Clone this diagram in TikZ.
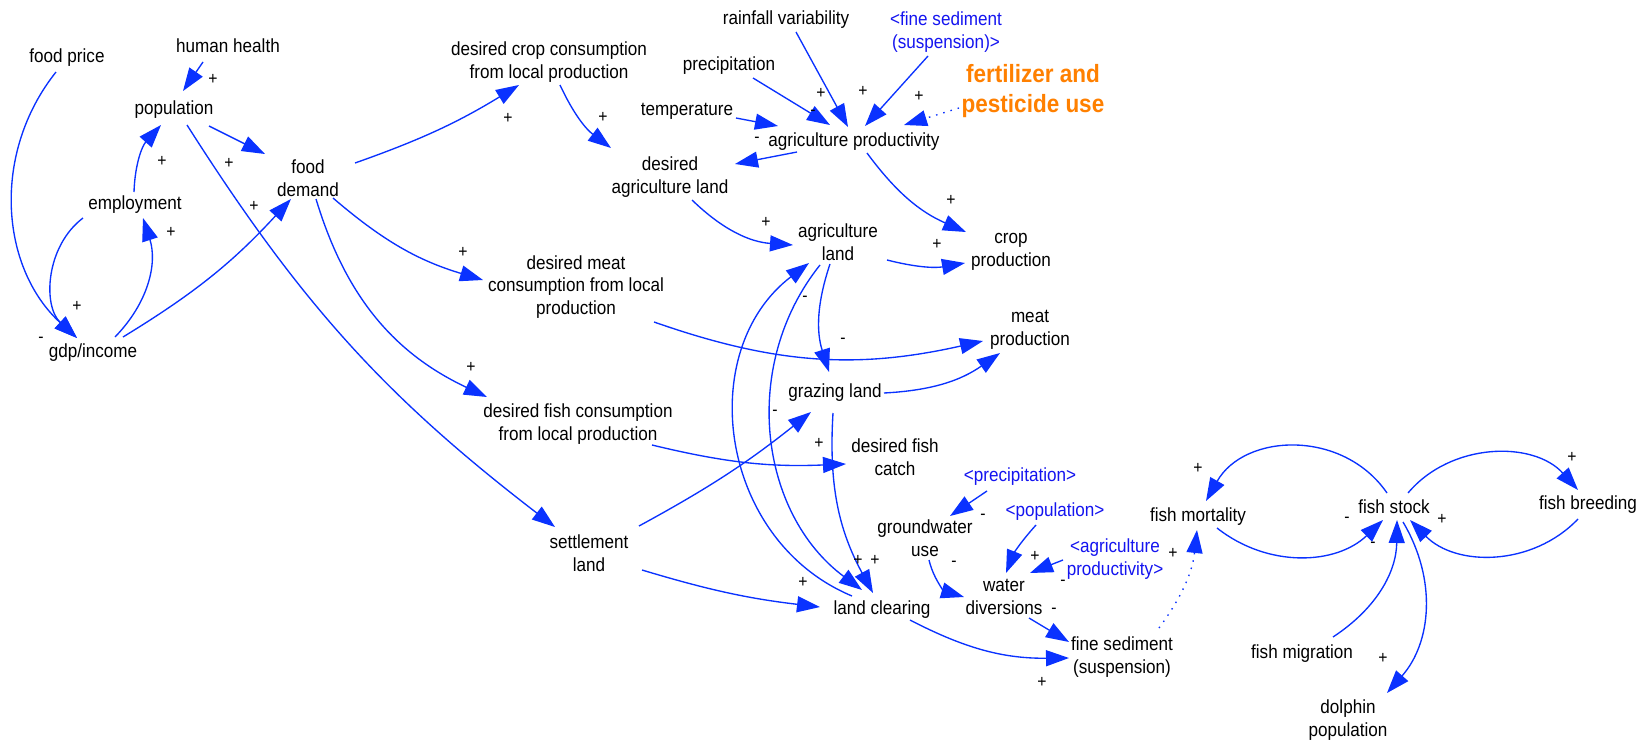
\documentclass[tikz,border=0pt]{standalone}
\usepackage{fontspec}
\setmainfont{Liberation Sans}[FakeStretch=0.9]
\usetikzlibrary{arrows.meta}
\definecolor{linkblue}{RGB}{10,50,255}
\definecolor{shadowblue}{RGB}{20,20,240}
\definecolor{fertorange}{RGB}{255,128,0}
\begin{document}
\begin{tikzpicture}[x=1pt,y=1pt,
  var/.style={inner sep=2pt, align=center, font=\fontsize{19}{22.5}\selectfont},
  shadow/.style={var, text=shadowblue},
  pol/.style={inner sep=0pt, font=\fontsize{17.5}{17.5}\selectfont},
  link/.style={draw=linkblue, line width=1.35pt, -{Triangle[length=23pt,width=16pt]}},
  dotlink/.style={link, dash pattern=on 1.5pt off 6pt},
]
\fill[white] (0,0) rectangle (1641,-744);
\useasboundingbox (0,0) rectangle (1641,-744);

% variables
\node[var] (fp)   at (67,-58)   {food price};
\node[var] (hh)   at (228,-46)  {human health};
\node[var] (pop)  at (174,-110) {population};
\node[var] (fd)   at (308,-178) {food\\demand};
\node[var] (emp)  at (135,-205) {employment};
\node[var] (gdp)  at (93,-353)  {gdp/income};
\node[var] (dcc)  at (549,-62)  {desired crop consumption\\from local production};
\node[var] (rv)   at (786,-20)  {rainfall variability};
\node[var] (prec) at (729,-66)  {precipitation};
\node[var] (temp) at (687,-111) {temperature};
\node[shadow] (fss) at (946,-32) {<fine sediment\\(suspension)>};
\node[align=center, text=fertorange, inner sep=2pt,
      font=\bfseries\fontsize{25}{30}\selectfont] (fert) at (1033,-91) {fertilizer and\\pesticide use};
\node[var] (ap)   at (854,-142) {agriculture productivity};
\node[var] (dal)  at (670,-177) {desired\\agriculture land};
\node[var] (al)   at (838,-242) {agriculture\\land};
\node[var] (cp)   at (1011,-252) {crop\\production};
\node[var] (dmc)  at (576,-287) {desired meat\\consumption from local\\production};
\node[var] (mp)   at (1030,-330) {meat\\production};
\node[var] (gl)   at (835,-393) {grazing land};
\node[var] (dfc)  at (578,-424) {desired fish consumption\\from local production};
\node[var] (dfch) at (895,-457) {desired fish\\catch};
\node[var] (sl)   at (589,-553) {settlement\\land};
\node[var] (lc)   at (882,-610) {land clearing};
\node[shadow] (sprec) at (1020,-477) {<precipitation>};
\node[var] (gw)   at (925,-538) {groundwater\\use};
\node[shadow] (spop) at (1055,-512) {<population>};
\node[shadow] (sap) at (1115,-559) {<agriculture\\productivity>};
\node[var] (wd)   at (1004,-597) {water\\diversions};
\node[var] (fs)   at (1122,-657) {fine sediment\\(suspension)};
\node[var] (fm)   at (1198,-517) {fish mortality};
\node[var] (fst)  at (1394,-507) {fish stock};
\node[var] (fb)   at (1588,-505) {fish breeding};
\node[var] (fmig) at (1302,-654) {fish migration};
\node[var] (dp)   at (1348,-720) {dolphin\\population};

% causal links
\draw[link] ([shift={(-25,-16)}]hh.center) -- ([shift={(9,19)}]pop.center);
\draw[link] ([shift={(-11,-14)}]fp.center) to[bend right=43] ([shift={(-16,15)}]gdp.center);
\draw[link] ([shift={(-52,-13)}]emp.center) to[bend right=50] ([shift={(-16,15)}]gdp.center);
\draw[link] ([shift={(22,16)}]gdp.center) to[bend right=31] ([shift={(8,-13)}]emp.center);
\draw[link] ([shift={(30,16)}]gdp.center) to[bend right=8] ([shift={(-17,-21)}]fd.center);
\draw[link] ([shift={(-1,13)}]emp.center) to[bend left=20] ([shift={(-13,-15)}]pop.center);
\draw[link] ([shift={(35,-16)}]pop.center) -- ([shift={(-43,24)}]fd.center);
\draw[link] ([shift={(13,-15)}]pop.center) to[bend right=10] ([shift={(-34,26)}]sl.center);
\draw[link] ([shift={(47,15)}]fd.center) to[bend right=6] ([shift={(-30,-23)}]dcc.center);
\draw[link] ([shift={(25,-20)}]fd.center) to[bend right=12] ([shift={(-93,7)}]dmc.center);
\draw[link] ([shift={(8,-21)}]fd.center) to[bend right=24] ([shift={(-91,27)}]dfc.center);
\draw[link] ([shift={(11,-23)}]dcc.center) to[bend right=14] ([shift={(-59,29)}]dal.center);
\draw[link] ([shift={(22,-23)}]dal.center) to[bend right=20] ([shift={(-45,-3)}]al.center);
\draw[link] ([shift={(-57,-10)}]ap.center) -- ([shift={(65,13)}]dal.center);
\draw[link] ([shift={(49,-7)}]temp.center) -- ([shift={(-76,16)}]ap.center);
\draw[link] ([shift={(24,-12)}]prec.center) -- ([shift={(-24,17)}]ap.center);
\draw[link] ([shift={(10,-12)}]rv.center) -- ([shift={(-6,15)}]ap.center);
\draw[link] ([shift={(-18,-24)}]fss.center) -- ([shift={(11,16)}]ap.center);
\draw[dotlink] ([shift={(-74,-17)}]fert.center) -- ([shift={(50,17)}]ap.center);
\draw[link] ([shift={(13,-11)}]ap.center) to[bend right=15] ([shift={(-45,20)}]cp.center);
\draw[link] ([shift={(49,-18)}]al.center) to[bend right=12] ([shift={(-46,-11)}]cp.center);
\draw[link] ([shift={(-8,-22)}]al.center) to[bend right=18] ([shift={(-6,21)}]gl.center);
\draw[link] ([shift={(78,-35)}]dmc.center) to[bend right=16] ([shift={(-47,-11)}]mp.center);
\draw[link] ([shift={(49,0)}]gl.center) to[bend right=16] ([shift={(-30,-23)}]mp.center);
\draw[link] ([shift={(74,-21)}]dfc.center) to[bend right=8] ([shift={(-49,-7)}]dfch.center);
\draw[link] ([shift={(50,27)}]sl.center) to[bend right=5] ([shift={(-24,-19)}]gl.center);
\draw[link] ([shift={(53,-17)}]sl.center) to[bend right=5] ([shift={(-62,3)}]lc.center);
\draw[link] ([shift={(-30,14)}]lc.center) to[bend left=60, looseness=1.1] ([shift={(-29,-21)}]al.center);
\draw[link] ([shift={(-18,-23)}]al.center) to[bend right=46] ([shift={(-20,20)}]lc.center);
\draw[link] ([shift={(-2,-20)}]gl.center) to[bend right=16] ([shift={(-9,17)}]lc.center);
\draw[link] ([shift={(28,-10)}]lc.center) to[bend right=14] ([shift={(-53,-1)}]fs.center);
\draw[link] ([shift={(4,-22)}]gw.center) to[bend right=30] ([shift={(-40,0)}]wd.center);
\draw[link] ([shift={(-33,-14)}]sprec.center) -- ([shift={(25,22)}]gw.center);
\draw[link] ([shift={(-19,-13)}]spop.center) to[bend right=10] ([shift={(2,24)}]wd.center);
\draw[link] ([shift={(-52,-1)}]sap.center) -- ([shift={(26,24)}]wd.center);
\draw[link] ([shift={(25,-21)}]wd.center) -- ([shift={(-53,15)}]fs.center);
\draw[dotlink] ([shift={(37,29)}]fs.center) to[bend right=15] ([shift={(-1,-13)}]fm.center);
\draw[link] ([shift={(-7,14)}]fst.center) to[bend right=58, looseness=1.1] ([shift={(8,16)}]fm.center);
\draw[link] ([shift={(19,-11)}]fm.center) to[bend right=41] ([shift={(-11,-13)}]fst.center);
\draw[link] ([shift={(14,14)}]fst.center) to[bend left=49] ([shift={(-10,15)}]fb.center);
\draw[link] ([shift={(-10,-14)}]fb.center) to[bend left=46] ([shift={(16,-13)}]fst.center);
\draw[link] ([shift={(31,17)}]fmig.center) to[bend right=28] ([shift={(3,-13)}]fst.center);
\draw[link] ([shift={(9,-15)}]fst.center) to[bend left=36] ([shift={(39,27)}]dp.center);

% link polarities
\foreach \px/\py/\ps [count=\k] in {
  213/79/+, 162/161/+, 229/163/+, 254/206/+, 171/232/+, 77/306/+, 41/340/-,
  508/118/+, 603/117/+, 757/140/-, 813/113/-, 821/93/+, 863/91/+, 919/96/+,
  766/222/+, 951/200/+, 937/244/+, 463/252/+, 471/367/+, 805/299/-, 843/341/-,
  775/413/-, 819/443/+, 858/560/+, 875/560/+, 803/582/+, 1042/682/+,
  983/517/-, 954/564/-, 1035/556/+, 1063/583/-, 1054/611/-, 1173/553/+,
  1198/468/+, 1347/520/-, 1373/545/-, 1572/457/+, 1442/519/+, 1383/658/+}
  \node[pol] (pol\k) at (\px,-\py) {\ps};
\end{tikzpicture}
\end{document}
